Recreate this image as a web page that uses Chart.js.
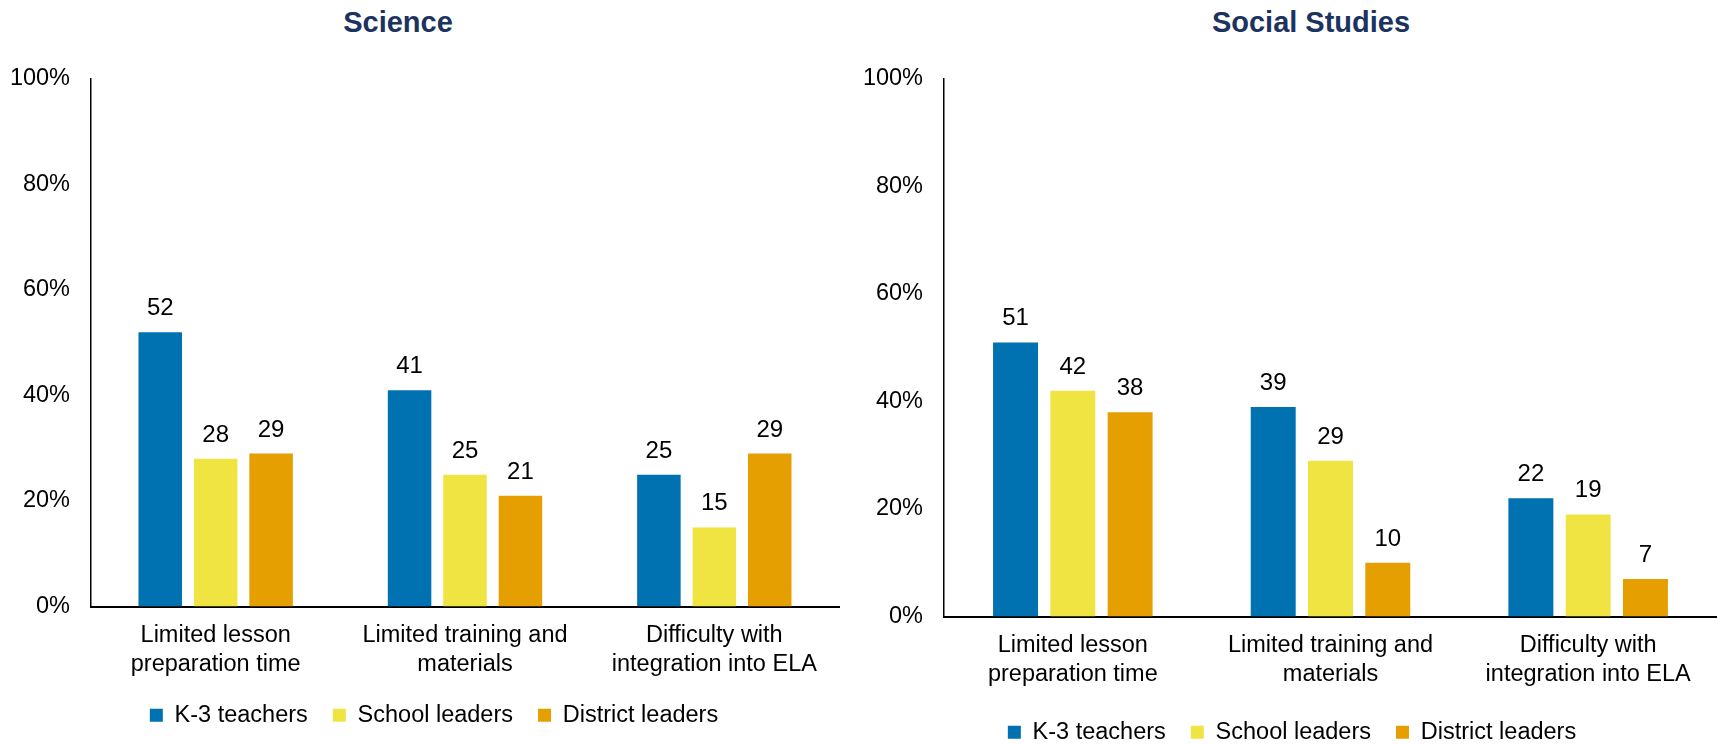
<!DOCTYPE html>
<html>
<head>
<meta charset="utf-8">
<script src="https://cdn.jsdelivr.net/npm/chart.js@4/dist/chart.umd.min.js"></script>
<style>
  html, body { margin: 0; padding: 0; background: #fff; overflow: hidden; }
  #wrap { position: relative; width: 1717px; height: 744px; overflow: hidden; }
  canvas { position: absolute; top: 0; }
  .title {
    position: absolute; top: 8px; line-height: 28px;
    font-family: "Liberation Sans", Arial, sans-serif; font-weight: bold; font-size: 29px;
    color: #1c335f; white-space: nowrap; transform: translateX(-50%);
  }
</style>
</head>
<body>
<div id="wrap">
  <div class="title" style="left:398px">Science</div>
  <div class="title" style="left:1311px">Social Studies</div>
  <canvas id="scienceChart" width="860" height="744" style="left:0"></canvas>
  <canvas id="socialChart" width="857" height="760" style="left:860px"></canvas>
</div>
<script>
// categories and series
var categories = [
  ['Limited lesson', 'preparation time'],
  ['Limited training and', 'materials'],
  ['Difficulty with', 'integration into ELA']
];
var seriesNames = ['K-3 teachers', 'School leaders', 'District leaders'];
var seriesColors = ['#0071B1', '#F0E442', '#E69F00'];

// percent values, science panel
var scienceK3 = [52, 41, 25];
var scienceSchool = [28, 25, 15];
var scienceDistrict = [29, 21, 29];

// percent values, social studies panel
var socialK3 = [51, 39, 22];
var socialSchool = [42, 29, 19];
var socialDistrict = [38, 10, 7];

var yMax = 100;
var yStep = 20;

var fontFamily = '"Liberation Sans", Arial, sans-serif';
Chart.defaults.color = '#000';
Chart.defaults.font.family = fontFamily;

// draws the number above each bar
var valueLabels = {
  id: 'valueLabels',
  afterDatasetsDraw: function(chart) {
    var ctx = chart.ctx;
    ctx.save();
    ctx.font = '24px ' + fontFamily;
    ctx.fillStyle = '#000';
    ctx.textAlign = 'center';
    ctx.textBaseline = 'alphabetic';
    chart.data.datasets.forEach(function(ds, i) {
      chart.getDatasetMeta(i).data.forEach(function(bar, j) {
        ctx.fillText(ds.data[j], bar.x, bar.y - 17);
      });
    });
    ctx.restore();
  }
};

// nudges the legend sideways (it is centred on the canvas otherwise)
var legendShift = {
  id: 'legendShift',
  afterLayout: function(chart, args, opts) {
    chart.legend.left += opts.dx;
    chart.legend.right += opts.dx;
  }
};

function makeChart(canvasId, values, yWidth, xHeight, pad, dx) {
  var datasets = [];
  for (var i = 0; i < seriesNames.length; i++) {
    datasets.push({
      label: seriesNames[i],
      data: values[i],
      backgroundColor: seriesColors[i],
      borderWidth: 0,
      categoryPercentage: 0.667,
      barPercentage: 0.785
    });
  }
  return new Chart(document.getElementById(canvasId), {
    type: 'bar',
    data: { labels: categories, datasets: datasets },
    plugins: [valueLabels, legendShift],
    options: {
      responsive: false,
      animation: false,
      layout: { padding: pad },
      plugins: {
        tooltip: { enabled: false },
        legendShift: { dx: dx },
        legend: {
          position: 'bottom',
          labels: {
            boxWidth: 13,
            boxHeight: 13,
            padding: 25,
            font: { size: 23.5 },
            color: '#000'
          }
        }
      },
      scales: {
        x: {
          grid: { display: false, drawTicks: false },
          border: { display: true, color: '#000', width: 2 },
          ticks: {
            font: { size: 23.5, lineHeight: 1.22 },
            padding: 15,
            maxRotation: 0,
            autoSkip: false
          },
          afterFit: function(scale) { scale.height = xHeight; }
        },
        y: {
          min: 0,
          max: yMax,
          grid: { display: false, drawTicks: false },
          border: { display: true, color: '#000', width: 1.5 },
          ticks: {
            stepSize: yStep,
            font: { size: 23.5 },
            padding: 21,
            callback: function(v) { return v + '%'; }
          },
          afterFit: function(scale) { scale.width = yWidth; }
        }
      }
    }
  });
}

var scienceChart = makeChart('scienceChart',
  [scienceK3, scienceSchool, scienceDistrict], 91, 72,
  { top: 79, left: 0, right: 21, bottom: 7 }, 14.5);

var socialChart = makeChart('socialChart',
  [socialK3, socialSchool, socialDistrict], 84, 79,
  { top: 79, left: 0, right: 0, bottom: 6 }, 3.5);
</script>
</body>
</html>
